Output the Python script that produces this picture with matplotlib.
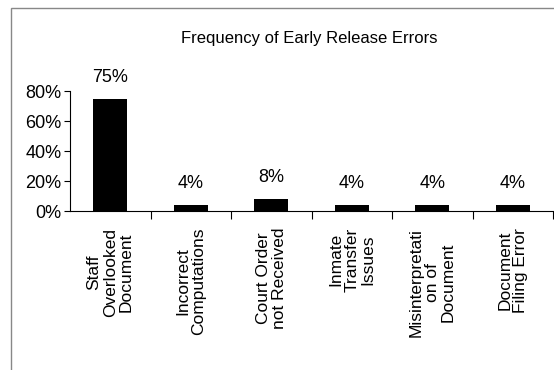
import numpy as np
import matplotlib
matplotlib.use("Agg")
import matplotlib.pyplot as plt
from matplotlib.patches import Rectangle
from matplotlib.ticker import PercentFormatter, FixedLocator

categories = [
    "Staff\nOverlooked\nDocument",
    "Incorrect\nComputations",
    "Court Order\nnot Received",
    "Inmate\nTransfer\nIssues",
    "Misinterpretati\non of\nDocument",
    "Document\nFiling Error",
]
values = [75, 4, 8, 4, 4, 4]
value_labels = ["75%", "4%", "8%", "4%", "4%", "4%"]
y_ticks = [0, 20, 40, 60, 80]

plt.rcParams["font.family"] = ["Liberation Sans", "DejaVu Sans"]

W, H = 554, 370
fig = plt.figure(figsize=(W / 100, H / 100), dpi=100)

# outer chart frame (left and top edges visible)
fig.patches.append(Rectangle((11 / W, -0.05), 1.2, (H - 8) / H + 0.05,
                             transform=fig.transFigure, fill=False,
                             edgecolor="#888888", linewidth=1.0))

ax = fig.add_axes([70 / W, (H - 211) / H, 483 / W, 120 / H])

x = np.arange(len(categories))
ax.bar(x, values, width=0.42, color="black")

for xi, v, lab in zip(x, values, value_labels):
    ax.text(xi, v + 8.5, lab, ha="center", va="bottom", fontsize=13)

ax.set_xlim(-0.5, len(categories) - 0.5)
ax.set_ylim(0, 80)
ax.set_yticks(y_ticks)
ax.yaxis.set_major_formatter(PercentFormatter(decimals=0))
ax.tick_params(axis="y", labelsize=13, length=4, width=0.8, pad=2, direction="out")

ax.set_xticks(x)
ax.set_xticklabels(categories, rotation=90, fontsize=12.5, linespacing=1.1,
                   multialignment="center")
ax.xaxis.set_minor_locator(FixedLocator(np.arange(0.5, len(categories), 1.0)))
ax.tick_params(axis="x", which="major", length=0, pad=12)
ax.tick_params(axis="x", which="minor", length=6, width=0.8, direction="out")

for side in ["top", "right"]:
    ax.spines[side].set_visible(False)
for side in ["left", "bottom"]:
    ax.spines[side].set_linewidth(0.8)

fig.text(309 / W, (H - 38) / H, "Frequency of Early Release Errors",
         ha="center", va="center", fontsize=12)

fig.savefig("out.png", dpi=100)
